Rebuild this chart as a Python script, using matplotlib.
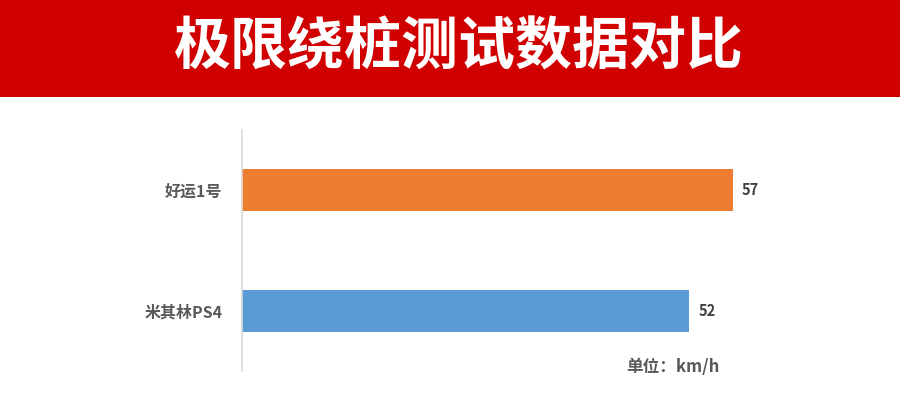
import matplotlib
matplotlib.use('Agg')
from matplotlib import pyplot as plt
from matplotlib.patches import Rectangle

plt.rcParams['font.family'] = ['Noto Sans CJK SC', 'DejaVu Sans']

title = '极限绕桩测试数据对比'
tires = ['米其林PS4', '好运1号']
speeds = [52, 57]
bar_colors = ['#5B9BD5', '#ED7D31']
unit_text = '单位：km/h'

fig = plt.figure(figsize=(9, 4.07), dpi=100)

# red banner on top
fig.patches.append(Rectangle((0, 1 - 97 / 407), 1, 97 / 407, transform=fig.transFigure,
                             facecolor='#D00000', edgecolor='none', zorder=0))
fig.text(0.51, 1 - 48 / 407, title, color='white', fontsize=41, fontweight='heavy',
         ha='center', va='center')

ax = fig.add_axes([242 / 900, 36.3 / 407, 619.6 / 900, 240.4 / 407])
ax.barh(range(len(tires)), speeds, height=0.35, color=bar_colors)
ax.set_xlim(0, 72)
ax.set_ylim(-0.5, 1.5)

for i, v in enumerate(speeds):
    ax.text(v + 1.1, i, str(v), va='center', ha='left', fontsize=10.5,
            fontweight='bold', color='#404040')

ax.set_yticks(range(len(tires)))
ax.set_yticklabels(tires, fontsize=11.5, fontweight='bold', color='#595959')
ax.tick_params(axis='y', length=0, pad=14)
ax.set_xticks([])
for side in ['top', 'right', 'bottom']:
    ax.spines[side].set_visible(False)
ax.spines['left'].set_color('#D9D9D9')
ax.spines['left'].set_linewidth(1.2)

fig.text(720 / 900, 1 - 367 / 407, unit_text, ha='right', va='center',
         fontsize=12, fontweight='bold', color='#595959')

fig.savefig('out.png', dpi=100)
